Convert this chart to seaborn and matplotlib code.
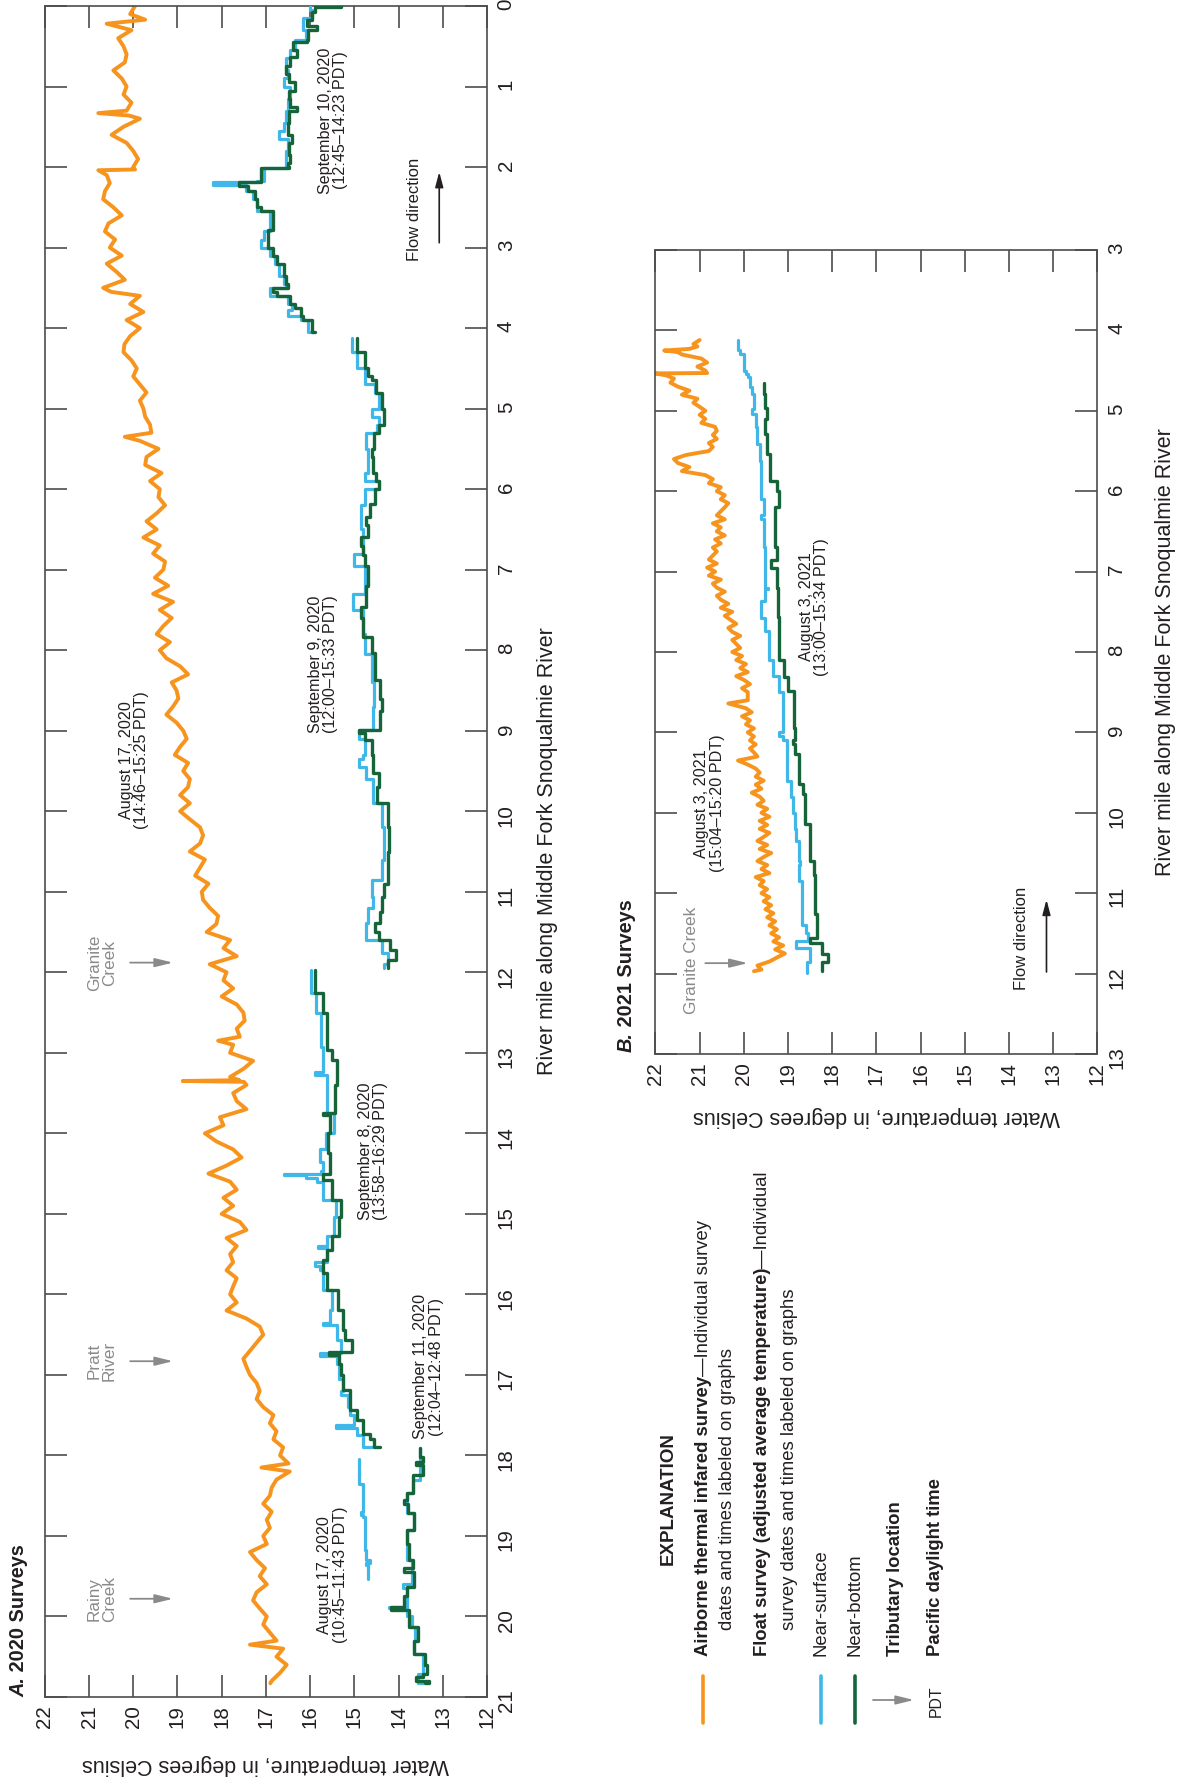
import numpy as np
import matplotlib
matplotlib.use("Agg")
import matplotlib.pyplot as plt
from matplotlib import font_manager
from matplotlib.lines import Line2D
import seaborn as sns

# ---------------------------------------------------------------------------
# Data: water temperature (deg C) along river mile, Middle Fork Snoqualmie
# ---------------------------------------------------------------------------
# 2020 airborne thermal infrared survey, August 17, 2020 (14:46-15:25 PDT)
tir_2020_mile = [0.0, 0.1, 0.17, 0.22, 0.3, 0.4, 0.5, 0.6, 0.7, 0.8, 0.9, 1.0, 1.1, 1.2, 1.3, 1.33, 1.36,
                 1.4, 1.5, 1.6, 1.7, 1.8, 1.9, 2.0, 2.03, 2.04, 2.1, 2.2, 2.3, 2.4, 2.5, 2.6, 2.7, 2.8, 2.9,
                 3.0, 3.1, 3.2, 3.3, 3.4, 3.5, 3.55, 3.6, 3.7, 3.8, 3.9, 4.0, 4.1, 4.2, 4.3, 4.4, 4.5, 4.6,
                 4.7, 4.8, 4.9, 5.0, 5.1, 5.2, 5.3, 5.35, 5.4, 5.5, 5.6, 5.7, 5.8, 5.9, 6.0, 6.1, 6.2, 6.3,
                 6.4, 6.5, 6.6, 6.7, 6.8, 6.9, 7.0, 7.1, 7.2, 7.3, 7.4, 7.5, 7.6, 7.7, 7.8, 7.9, 8.0, 8.1,
                 8.2, 8.3, 8.4, 8.5, 8.6, 8.7, 8.8, 8.9, 9.0, 9.1, 9.2, 9.3, 9.4, 9.5, 9.6, 9.7, 9.8, 9.9,
                 10.0, 10.1, 10.2, 10.3, 10.4, 10.5, 10.6, 10.7, 10.8, 10.9, 11.0, 11.1, 11.2, 11.3, 11.4,
                 11.5, 11.6, 11.7, 11.8, 11.9, 12.0, 12.1, 12.2, 12.3, 12.4, 12.5, 12.6, 12.7, 12.8, 12.85,
                 12.9, 13.0, 13.1, 13.2, 13.3, 13.34, 13.35, 13.36, 13.4, 13.5, 13.6, 13.7, 13.8, 13.9, 14.0,
                 14.1, 14.2, 14.3, 14.4, 14.5, 14.6, 14.7, 14.8, 14.9, 15.0, 15.1, 15.2, 15.3, 15.4, 15.5,
                 15.6, 15.7, 15.8, 15.9, 16.0, 16.1, 16.2, 16.3, 16.4, 16.5, 16.6, 16.7, 16.8, 16.9, 17.0,
                 17.1, 17.2, 17.3, 17.4, 17.5, 17.6, 17.7, 17.8, 17.9, 18.0, 18.1, 18.15, 18.2, 18.3, 18.4,
                 18.5, 18.6, 18.7, 18.8, 18.9, 19.0, 19.1, 19.2, 19.3, 19.4, 19.5, 19.6, 19.7, 19.8, 19.9,
                 20.0, 20.1, 20.2, 20.3, 20.35, 20.4, 20.5, 20.6, 20.7, 20.8, 20.83]
tir_2020_temp = [19.96, 20.07, 19.73, 20.60, 20.04, 20.34, 20.22, 20.15, 20.19, 20.45, 20.26, 20.15, 20.22,
                 20.04, 20.15, 20.79, 20.10, 19.85, 20.22, 20.49, 20.15, 20.00, 19.89, 20.00, 19.96, 20.79,
                 20.60, 20.53, 20.64, 20.68, 20.45, 20.26, 20.56, 20.64, 20.41, 20.53, 20.26, 20.60, 20.38,
                 20.19, 20.68, 20.50, 19.85, 20.07, 19.77, 20.15, 19.85, 20.07, 20.20, 20.22, 20.04, 19.92,
                 20.00, 19.85, 19.70, 19.85, 19.77, 19.73, 19.62, 19.59, 20.19, 19.85, 19.43, 19.70, 19.73,
                 19.36, 19.62, 19.40, 19.43, 19.28, 19.47, 19.70, 19.47, 19.77, 19.40, 19.55, 19.28, 19.32,
                 19.51, 19.21, 19.55, 19.10, 19.40, 19.13, 19.32, 19.47, 19.17, 19.40, 19.25, 18.94, 18.76,
                 19.13, 19.02, 18.98, 19.10, 19.25, 19.02, 18.87, 18.79, 18.94, 19.06, 18.76, 18.87, 18.72,
                 18.76, 18.94, 18.72, 18.94, 18.72, 18.49, 18.42, 18.49, 18.72, 18.38, 18.49, 18.60, 18.30,
                 18.45, 18.42, 18.27, 18.08, 18.12, 18.34, 17.81, 17.96, 17.66, 18.27, 17.89, 17.96, 17.74,
                 18.00, 17.66, 17.51, 17.48, 17.66, 17.59, 18.08, 17.74, 17.81, 17.29, 17.51, 17.81, 17.60,
                 18.88, 17.50, 17.44, 17.74, 17.66, 17.44, 18.04, 17.96, 18.38, 18.12, 17.74, 17.55, 17.89,
                 18.30, 17.81, 17.66, 17.96, 17.74, 18.00, 17.59, 17.44, 17.89, 17.66, 17.81, 17.74, 17.89,
                 17.66, 17.74, 17.81, 17.66, 17.89, 17.44, 17.14, 17.06, 17.21, 17.36, 17.51, 17.44, 17.36,
                 17.21, 17.14, 17.21, 17.06, 16.83, 16.91, 16.76, 16.83, 16.61, 16.68, 16.49, 17.10, 16.46,
                 16.76, 16.87, 16.91, 17.06, 16.87, 16.98, 16.91, 17.06, 16.98, 17.36, 17.21, 17.02, 17.14,
                 16.98, 17.21, 17.29, 17.14, 16.98, 17.06, 16.91, 16.76, 17.36, 16.61, 16.76, 16.53, 16.68,
                 16.87, 16.90]

# 2020 float surveys (step records: value holds until the next mile listed)
sep10_bottom_mile = [0.0, 0.01, 0.08, 0.17, 0.25, 0.3, 0.42, 0.45, 0.55, 0.63, 0.75, 0.85, 0.95, 1.05, 1.15,
                     1.25, 1.3, 1.45, 1.6, 1.7, 1.85, 1.95, 2.0, 2.01, 2.15, 2.19, 2.23, 2.3, 2.4, 2.5, 2.55,
                     2.7, 2.78, 2.9, 3.0, 3.1, 3.2, 3.35, 3.45, 3.5, 3.55, 3.6, 3.7, 3.75, 3.85, 3.9, 4.05]
sep10_bottom_temp = [15.30, 15.90, 15.95, 16.07, 15.85, 16.05, 16.07, 16.39, 16.30, 16.45, 16.55, 16.47,
                     16.35, 16.47, 16.45, 16.30, 16.47, 16.50, 16.40, 16.47, 16.45, 16.50, 16.47, 17.10,
                     17.10, 17.60, 17.40, 17.25, 17.20, 17.10, 16.85, 16.83, 16.95, 16.95, 16.85, 16.75,
                     16.60, 16.55, 16.50, 16.85, 16.75, 16.45, 16.35, 16.20, 16.15, 15.95, 15.90]
sep10_surface_mile = [0.0, 0.05, 0.15, 0.3, 0.42, 0.55, 0.65, 0.8, 0.9, 1.0, 1.15, 1.3, 1.45, 1.55, 1.65,
                      1.8, 2.0, 2.01, 2.17, 2.19, 2.22, 2.3, 2.4, 2.55, 2.7, 2.8, 2.9, 3.0, 3.1, 3.2, 3.35,
                      3.45, 3.5, 3.6, 3.7, 3.78, 3.85, 3.9, 4.05]
sep10_surface_temp = [16.00, 15.95, 16.15, 16.10, 16.35, 16.45, 16.55, 16.50, 16.60, 16.45, 16.50, 16.55,
                      16.60, 16.70, 16.50, 16.55, 16.55, 17.05, 17.20, 18.20, 17.45, 17.30, 17.20, 16.90,
                      16.90, 17.05, 17.10, 16.90, 16.80, 16.70, 16.60, 16.55, 16.90, 16.50, 16.40, 16.50,
                      16.20, 16.05, 15.95]

sep9_bottom_mile = [4.12, 4.3, 4.5, 4.6, 4.65, 4.8, 5.0, 5.2, 5.3, 5.5, 5.6, 5.8, 5.9, 6.0, 6.18, 6.34, 6.45,
                    6.59, 6.7, 6.82, 6.96, 7.2, 7.46, 7.6, 7.83, 8.04, 8.37, 8.6, 8.75, 8.99, 9.03, 9.12, 9.3,
                    9.53, 9.7, 9.9, 10.2, 10.5, 10.9, 11.06, 11.25, 11.39, 11.5, 11.6, 11.72, 11.85, 11.95]
sep9_bottom_temp = [14.93, 14.77, 14.69, 14.61, 14.50, 14.37, 14.33, 14.45, 14.55, 14.61, 14.57, 14.50,
                    14.45, 14.53, 14.65, 14.73, 14.69, 14.85, 14.80, 14.77, 14.69, 14.73, 14.85, 14.80,
                    14.61, 14.53, 14.41, 14.37, 14.41, 14.89, 14.77, 14.61, 14.57, 14.45, 14.49, 14.25,
                    14.21, 14.25, 14.33, 14.37, 14.41, 14.53, 14.45, 14.20, 14.05, 14.25, 14.25]
sep9_surface_mile = [4.12, 4.3, 4.5, 4.7, 4.8, 5.0, 5.1, 5.2, 5.3, 5.5, 5.8, 5.9, 6.0, 6.2, 6.5, 6.8, 6.96,
                     7.3, 7.5, 7.8, 8.05, 8.4, 8.7, 8.99, 9.1, 9.3, 9.35, 9.45, 9.6, 9.9, 10.2, 10.6, 10.85,
                     11.06, 11.2, 11.39, 11.6, 11.76, 11.9, 11.95]
sep9_surface_temp = [15.06, 14.93, 14.77, 14.53, 14.45, 14.61, 14.45, 14.49, 14.73, 14.69, 14.77, 14.45,
                     14.77, 14.85, 14.80, 15.00, 14.77, 15.02, 14.81, 14.77, 14.61, 14.55, 14.57, 14.89,
                     14.77, 14.80, 14.89, 14.73, 14.57, 14.37, 14.33, 14.37, 14.61, 14.57, 14.69, 14.73,
                     14.37, 14.25, 14.33, 14.33]

sep8_bottom_mile = [11.97, 12.26, 12.51, 12.97, 13.09, 13.4, 13.75, 13.77, 14.0, 14.25, 14.5, 14.58, 14.83,
                    15.04, 15.28, 15.45, 15.57, 15.74, 15.95, 16.2, 16.44, 16.57, 16.72, 16.75, 16.86, 17.0,
                    17.19, 17.44, 17.56, 17.73, 17.8, 17.89]
sep8_bottom_temp = [15.90, 15.70, 15.62, 15.50, 15.40, 15.44, 15.70, 15.55, 15.60, 15.56, 15.70, 15.50,
                    15.30, 15.35, 15.50, 15.62, 15.70, 15.62, 15.38, 15.25, 15.20, 15.06, 15.58, 15.35,
                    15.30, 15.25, 15.10, 14.95, 14.80, 14.65, 14.55, 14.41]
sep8_surface_mile = [11.97, 12.26, 12.51, 12.93, 13.2, 13.24, 13.28, 13.5, 13.75, 14.0, 14.2, 14.35, 14.47,
                     14.5, 14.52, 14.55, 14.6, 14.83, 15.04, 15.28, 15.4, 15.42, 15.45, 15.6, 15.65, 15.7,
                     15.95, 16.2, 16.35, 16.38, 16.57, 16.73, 16.76, 16.86, 17.05, 17.2, 17.25, 17.4, 17.5,
                     17.62, 17.66, 17.75, 17.89]
sep8_surface_temp = [15.98, 15.86, 15.75, 15.70, 15.70, 15.90, 15.62, 15.62, 15.45, 15.65, 15.78, 15.70,
                     15.75, 16.59, 16.10, 15.85, 15.70, 15.42, 15.46, 15.62, 15.82, 15.62, 15.62, 15.90,
                     15.78, 15.70, 15.50, 15.55, 15.70, 15.40, 15.30, 15.78, 15.40, 15.35, 15.25, 15.30,
                     15.14, 15.10, 15.00, 15.42, 14.95, 14.80, 14.60]

sep11_bottom_mile = [17.91, 18.02, 18.08, 18.12, 18.24, 18.47, 18.55, 18.6, 18.72, 18.93, 19.1, 19.3, 19.4,
                     19.45, 19.63, 19.75, 19.88, 19.92, 20.13, 20.3, 20.46, 20.6, 20.71, 20.75, 20.8, 20.83]
sep11_bottom_temp = [13.52, 13.44, 13.60, 13.44, 13.68, 13.80, 13.88, 13.78, 13.65, 13.80, 13.76, 13.68,
                     13.88, 13.64, 13.80, 13.88, 14.17, 13.76, 13.56, 13.64, 13.40, 13.36, 13.44, 13.60,
                     13.32, 13.40]
sep11_surface_mile = [17.91, 18.3, 18.47, 18.72, 18.93, 19.3, 19.6, 19.65, 19.88, 19.9, 20.0, 20.13, 20.3,
                      20.46, 20.71, 20.83]
sep11_surface_temp = [13.52, 13.68, 13.80, 13.65, 13.80, 13.70, 13.90, 13.80, 14.22, 13.80, 13.70, 13.62,
                      13.66, 13.45, 13.55, 13.45]

aug17_surface_mile = [18.04, 18.35, 18.7, 18.74, 18.76, 19.17, 19.3, 19.33, 19.36, 19.53]
aug17_surface_temp = [14.89, 14.81, 14.85, 14.81, 14.77, 14.73, 14.65, 14.73, 14.69, 14.69]

# 2021 surveys, August 3, 2021
tir_2021_mile = [4.12, 4.17, 4.2, 4.23, 4.25, 4.27, 4.3, 4.35, 4.4, 4.45, 4.5, 4.53, 4.535, 4.56, 4.6, 4.65,
                 4.7, 4.75, 4.8, 4.85, 4.9, 4.95, 5.0, 5.05, 5.1, 5.15, 5.2, 5.25, 5.3, 5.35, 5.4, 5.45,
                 5.5, 5.55, 5.6, 5.65, 5.7, 5.75, 5.8, 5.85, 5.9, 5.95, 6.0, 6.05, 6.1, 6.15, 6.2, 6.25,
                 6.3, 6.35, 6.4, 6.45, 6.5, 6.55, 6.6, 6.65, 6.7, 6.75, 6.8, 6.85, 6.9, 6.95, 7.0, 7.05,
                 7.1, 7.15, 7.2, 7.25, 7.3, 7.35, 7.4, 7.45, 7.5, 7.55, 7.6, 7.65, 7.7, 7.75, 7.8, 7.85,
                 7.9, 7.95, 8.0, 8.05, 8.1, 8.15, 8.2, 8.25, 8.3, 8.35, 8.4, 8.45, 8.5, 8.6, 8.64, 8.7,
                 8.75, 8.8, 8.85, 8.9, 8.95, 9.0, 9.05, 9.1, 9.15, 9.2, 9.25, 9.3, 9.35, 9.4, 9.45, 9.5,
                 9.55, 9.6, 9.65, 9.7, 9.75, 9.8, 9.85, 9.9, 9.95, 10.0, 10.05, 10.1, 10.15, 10.2, 10.25,
                 10.3, 10.35, 10.4, 10.45, 10.5, 10.55, 10.6, 10.65, 10.7, 10.75, 10.8, 10.85, 10.9, 10.95,
                 11.0, 11.05, 11.1, 11.15, 11.2, 11.25, 11.3, 11.35, 11.4, 11.45, 11.5, 11.55, 11.6, 11.65,
                 11.7, 11.75, 11.8, 11.85, 11.9, 11.95, 11.97]
tir_2021_temp = [21.00, 21.14, 21.05, 21.23, 21.80, 21.49, 21.40, 20.96, 20.83, 21.05, 20.87, 20.83, 22.00,
                 21.75, 21.58, 21.66, 21.49, 21.23, 21.40, 21.05, 21.14, 21.00, 20.87, 21.00, 20.87, 20.96,
                 20.65, 20.61, 20.70, 20.61, 20.79, 20.70, 20.79, 21.31, 21.58, 21.49, 21.23, 21.40, 20.87,
                 20.70, 20.79, 20.52, 20.61, 20.43, 20.52, 20.35, 20.43, 20.52, 20.61, 20.43, 20.70, 20.52,
                 20.61, 20.43, 20.65, 20.52, 20.70, 20.61, 20.70, 20.79, 20.61, 20.83, 20.65, 20.79, 20.52,
                 20.70, 20.61, 20.43, 20.61, 20.52, 20.35, 20.52, 20.26, 20.43, 20.30, 20.17, 20.35, 20.26,
                 20.08, 20.26, 20.17, 20.08, 20.26, 20.04, 20.17, 19.95, 20.08, 19.91, 20.17, 19.99, 19.86,
                 20.04, 19.91, 19.91, 20.35, 19.95, 19.82, 20.04, 19.86, 19.95, 19.77, 19.91, 19.77, 19.86,
                 19.73, 19.86, 19.77, 19.69, 20.13, 19.91, 19.73, 19.64, 19.73, 19.55, 19.73, 19.60, 19.82,
                 19.64, 19.55, 19.69, 19.47, 19.60, 19.42, 19.64, 19.47, 19.64, 19.42, 19.55, 19.69, 19.47,
                 19.64, 19.38, 19.55, 19.69, 19.47, 19.60, 19.42, 19.73, 19.55, 19.64, 19.47, 19.60, 19.42,
                 19.55, 19.38, 19.51, 19.33, 19.47, 19.29, 19.42, 19.25, 19.38, 19.20, 19.33, 19.11, 19.29,
                 19.07, 19.25, 19.42, 19.69, 19.60, 19.77]
aug3_surface_mile = [4.12, 4.25, 4.29, 4.5, 4.54, 4.58, 4.7, 4.79, 4.98, 5.04, 5.2, 5.41, 5.62, 5.8, 6.1, 6.3,
                     6.35, 6.7, 7.2, 7.22, 7.37, 7.58, 7.74, 8.1, 8.3, 8.5, 9.0, 9.05, 9.1, 9.6, 9.8, 10.0,
                     10.2, 10.35, 10.6, 10.65, 10.85, 11.39, 11.5, 11.6, 11.68, 11.85, 11.99]
aug3_surface_temp = [20.13, 20.08, 19.99, 19.95, 19.91, 19.86, 19.82, 19.77, 19.82, 19.73, 19.69, 19.64,
                     19.60, 19.60, 19.55, 19.60, 19.55, 19.51, 19.46, 19.51, 19.60, 19.51, 19.42, 19.33,
                     19.20, 19.11, 19.20, 19.11, 19.03, 18.94, 18.89, 18.85, 18.81, 18.76, 18.72, 18.76,
                     18.68, 18.59, 18.55, 18.81, 18.50, 18.56, 18.56]
aug3_bottom_mile = [4.66, 4.79, 4.96, 5.1, 5.29, 5.54, 5.87, 6.0, 6.2, 6.7, 6.85, 6.95, 7.2, 7.57, 8.1, 8.31,
                    8.48, 8.94, 9.1, 9.15, 9.27, 9.64, 9.77, 10.14, 10.6, 10.77, 11.26, 11.56, 11.62, 11.76,
                    11.85, 11.97]
aug3_bottom_temp = [19.55, 19.51, 19.47, 19.51, 19.47, 19.40, 19.25, 19.20, 19.29, 19.25, 19.38, 19.25,
                    19.22, 19.20, 19.08, 19.00, 18.87, 18.83, 18.89, 18.83, 18.76, 18.65, 18.61, 18.50,
                    18.41, 18.39, 18.35, 18.50, 18.24, 18.10, 18.24, 18.24]

temp_ticks = list(range(12, 23))
mile_ticks_2020 = list(range(0, 22))
mile_ticks_2021 = list(range(3, 14))

# ---------------------------------------------------------------------------
# Styling
# ---------------------------------------------------------------------------
sns.set_theme(style="white")
installed = {f.name for f in font_manager.fontManager.ttflist}
HAS_NARROW = "Liberation Sans Narrow" in installed
NARROW = "Liberation Sans Narrow" if HAS_NARROW else "Liberation Sans"
WIDE = "Liberation Sans"
NS = 1.0 if HAS_NARROW else 0.82
plt.rcParams["font.family"] = [NARROW, "DejaVu Sans"]

ORANGE = "#F7941D"
BLUE = "#3FB7E8"
GREEN = "#16653A"
INK = "#231F20"
AXIS = "#4D4D4D"
TRIB = "#8A8A8A"

W, H = 1178, 1779
fig = plt.figure(figsize=(W / 100, H / 100), dpi=100)
fig.patch.set_facecolor("white")


def fx(px):
    return px / W


def fy(py):
    return 1 - py / H


ax_a = fig.add_axes([fx(44.8), fy(1697), 442.2 / W, 1691 / H])
ax_b = fig.add_axes([fx(655.4), fy(1054), 441.9 / W, 804 / H])


def trace(ax, miles, temps, color, lw, step=True, z=2):
    m = np.asarray(miles, dtype=float)
    t = np.asarray(temps, dtype=float)
    if step:
        m = np.repeat(m, 2)[1:]
        t = np.repeat(t, 2)[:-1]
    sns.lineplot(x=t, y=m, orient="y", sort=False, estimator=None, color=color,
                 linewidth=lw, ax=ax, zorder=z, legend=False)


# Panel A: 2020
trace(ax_a, tir_2020_mile, tir_2020_temp, ORANGE, 2.8, step=False)
for sm, st, bm, bt in [(sep10_surface_mile, sep10_surface_temp, sep10_bottom_mile, sep10_bottom_temp),
                       (sep9_surface_mile, sep9_surface_temp, sep9_bottom_mile, sep9_bottom_temp),
                       (sep8_surface_mile, sep8_surface_temp, sep8_bottom_mile, sep8_bottom_temp),
                       (sep11_surface_mile, sep11_surface_temp, sep11_bottom_mile, sep11_bottom_temp)]:
    trace(ax_a, sm, st, BLUE, 2.3, z=3)
    trace(ax_a, bm, bt, GREEN, 2.4, z=4)
trace(ax_a, aug17_surface_mile, aug17_surface_temp, BLUE, 2.3, z=3)

# Panel B: 2021
trace(ax_b, tir_2021_mile, tir_2021_temp, ORANGE, 2.8, step=False)
trace(ax_b, aug3_surface_mile, aug3_surface_temp, BLUE, 2.3, z=3)
trace(ax_b, aug3_bottom_mile, aug3_bottom_temp, GREEN, 2.4, z=4)


def style_axes(ax, miles):
    ax.set_xlim(22, 12)
    ax.set_ylim(miles[-1], miles[0])
    ax.set_xticks(temp_ticks)
    ax.set_xticklabels([str(t) for t in temp_ticks])
    ax.set_yticks(miles)
    ax.set_yticklabels([str(m) for m in miles])
    ax.grid(False)
    ax.tick_params(axis="both", which="major", direction="in", length=15.5, width=1.2,
                   color=AXIS, labelcolor=INK, labelsize=18 * NS)
    ax.tick_params(axis="x", top=True, bottom=True, labeltop=False, labelbottom=True,
                   labelrotation=90, pad=6)
    ax.tick_params(axis="y", left=True, right=True, labelleft=False, labelright=True,
                   labelrotation=90, pad=7)
    for sp in ax.spines.values():
        sp.set_visible(True)
        sp.set_color(AXIS)
        sp.set_linewidth(1.2)


style_axes(ax_a, mile_ticks_2020)
style_axes(ax_b, mile_ticks_2021)

# Axis titles
for ax, y_lab, x_lab in [(ax_a, (1697 - 1765) / 1691, (547 - 44.8) / 442.2),
                         (ax_b, (1054 - 1117) / 804, (1165 - 655.4) / 441.9)]:
    ax.set_xlabel("Water temperature, in degrees Celsius", rotation=180, fontsize=15.5,
                  family=[WIDE, "DejaVu Sans"], color=INK, va="center", ha="center")
    ax.xaxis.set_label_coords(0.5, y_lab)
    ax.yaxis.set_label_position("right")
    ax.set_ylabel("River mile along Middle Fork Snoqualmie River", rotation=90, fontsize=15.5,
                  family=[WIDE, "DejaVu Sans"], color=INK, va="center", ha="center")
    ax.yaxis.set_label_coords(x_lab, 0.5)


def note(ax, t, m, s, size=14.2, color=INK):
    ax.text(t, m, s, rotation=90, ha="center", va="center", multialignment="center",
            fontsize=size * NS, color=color, linespacing=1.05, zorder=6)


def pointer(ax, t_tail, t_head, m, color=TRIB, lw=1.3):
    ax.annotate("", xy=(t_head, m), xytext=(t_tail, m),
                arrowprops=dict(arrowstyle="-|>,head_length=0.9,head_width=0.22",
                                color=color, lw=lw, shrinkA=0, shrinkB=0), zorder=6)


def flow(ax, t, m_tail, m_head):
    ax.annotate("", xy=(t, m_head), xytext=(t, m_tail),
                arrowprops=dict(arrowstyle="-|>,head_length=0.75,head_width=0.2",
                                color=INK, lw=1.2, shrinkA=0, shrinkB=0), zorder=6)


# Panel A labels
note(ax_a, 19.98, 9.36, "August 17, 2020\n(14:46\u201315:25 PDT)")
note(ax_a, 15.71, 8.17, "September 9, 2020\n(12:00\u201315:33 PDT)")
note(ax_a, 15.48, 1.42, "September 10, 2020\n(12:45\u201314:23 PDT)")
note(ax_a, 14.58, 14.22, "September 8, 2020\n(13:58\u201316:29 PDT)")
note(ax_a, 13.32, 16.90, "September 11, 2020\n(12:04\u201312:48 PDT)")
note(ax_a, 15.50, 19.48, "August 17, 2020\n(10:45\u201311:43 PDT)")
note(ax_a, 13.65, 2.52, "Flow direction", size=14.6)
flow(ax_a, 13.08, 2.94, 2.06)
for m, name in [(11.88, "Granite\nCreek"), (16.83, "Pratt\nRiver"), (19.78, "Rainy\nCreek")]:
    ax_a.text(20.71, m, name, rotation=90, ha="center", va="center", multialignment="center",
              fontsize=15 * NS, color=TRIB, linespacing=1.0, zorder=6)
    pointer(ax_a, 20.07, 19.10, m)

# Panel B labels
note(ax_b, 20.77, 9.88, "August 3, 2021\n(15:04\u201315:20 PDT)")
note(ax_b, 18.41, 7.44, "August 3, 2021\n(13:00\u201315:34 PDT)")
note(ax_b, 13.71, 11.56, "Flow direction", size=14.6)
flow(ax_b, 13.15, 11.98, 11.08)
ax_b.text(21.18, 11.84, "Granite Creek", rotation=90, ha="center", va="center",
          fontsize=15 * NS, color=TRIB, zorder=6)
pointer(ax_b, 20.87, 19.91, 11.87)

# ---------------------------------------------------------------------------
# Figure-level text: panel titles and explanation
# ---------------------------------------------------------------------------
renderer = fig.canvas.get_renderer()


def ftext(px, py, s, size, weight="normal", style="normal", color=INK):
    return fig.text(fx(px), fy(py), s, rotation=90, rotation_mode="anchor", ha="left",
                    va="center", fontsize=size * NS, fontweight=weight, fontstyle=style,
                    color=color)


def follow(prev, px, s, size, weight="normal", style="normal", color=INK):
    bb = prev.get_window_extent(renderer)
    return fig.text(fx(px), bb.y1 / fig.bbox.height, s, rotation=90, rotation_mode="anchor",
                    ha="left", va="center", fontsize=size * NS, fontweight=weight,
                    fontstyle=style, color=color)


ta = ftext(19, 1697, "A.", 17.5, weight="bold", style="italic")
follow(ta, 19, " 2020 Surveys", 17.5, weight="bold")
tb = ftext(626, 1052, "B.", 17.5, weight="bold", style="italic")
follow(tb, 626, " 2021 Surveys", 17.5, weight="bold")

ftext(668, 1565, "EXPLANATION", 16.5, weight="bold")
t1 = ftext(703, 1656, "Airborne thermal infared survey", 16.3, weight="bold")
follow(t1, 703, "\u2014Individual survey", 16.3)
ftext(727, 1630, "dates and times labeled on graphs", 16.3)
t2 = ftext(763, 1656, "Float survey (adjusted average temperature)", 16.3, weight="bold")
follow(t2, 763, "\u2014Individual", 16.3)
ftext(790, 1630, "survey dates and times labeled on graphs", 16.3)
ftext(821, 1656, "Near-surface", 16.3)
ftext(855, 1656, "Near-bottom", 16.3)
ftext(895, 1656, "Tributary location", 16.3, weight="bold")
ftext(936, 1656, "Pacific daylight time", 16.3, weight="bold")
fig.text(fx(936), fy(1701), "PDT", rotation=90, ha="center", va="center",
         fontsize=14 * NS, color=INK)

for px, col in [(703, ORANGE), (821, BLUE), (855, GREEN)]:
    fig.add_artist(Line2D([fx(px), fx(px)], [fy(1676), fy(1723)], transform=fig.transFigure,
                          color=col, linewidth=2.6))
ax_a.annotate("", xy=(fx(914), fy(1700)), xytext=(fx(873), fy(1700)),
              xycoords="figure fraction", textcoords="figure fraction",
              arrowprops=dict(arrowstyle="-|>,head_length=0.9,head_width=0.22", color=TRIB,
                              lw=1.3, shrinkA=0, shrinkB=0), annotation_clip=False)

fig.savefig("out.png", dpi=100, facecolor="white")
